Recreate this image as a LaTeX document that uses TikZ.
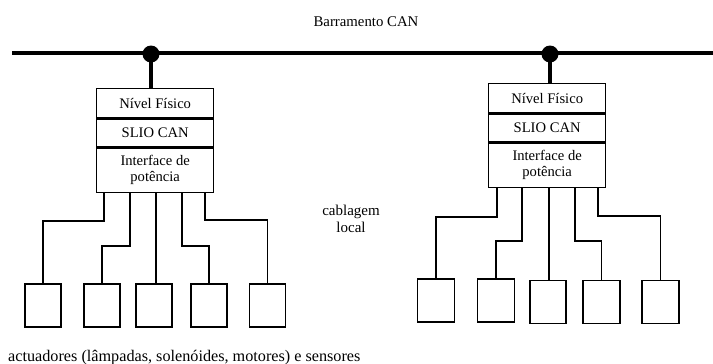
\documentclass[tikz,border=0pt]{standalone}
\usepackage{fontspec}
\setmainfont{Liberation Serif}
\usetikzlibrary{calc}
\begin{document}
\begin{tikzpicture}[x=1pt,y=-1pt,
  txt/.style={font=\fontsize{14.6}{16}\selectfont},
  layer/.style={draw,line width=1.3pt,minimum width=117pt,inner sep=0pt,align=center,txt},
  dev/.style={draw,line width=1.3pt,minimum width=36pt,minimum height=43pt,inner sep=0pt},
  wire/.style={line width=1.3pt},
  bus/.style={line width=4pt},
  tap/.style={circle,fill=black,minimum size=17pt,inner sep=0pt}]
\useasboundingbox (0,0) rectangle (713,364);
% bus
\coordinate (busL) at (12,53);
\coordinate (busR) at (713,53);
\draw[bus] (busL) -- (busR);
\node[font=\fontsize{14.8}{16}\selectfont] (title) at (366,22) {Barramento CAN};
\node[tap] (dotL) at (151,54) {};
\node[tap] (dotR) at (550,54) {};
% left stack
\node[layer,minimum height=29pt,anchor=north west] (Lphy) at (96,88) {N\'ivel F\'isico};
\node[layer,minimum height=28pt,anchor=north] (Lslio) at (Lphy.south) {SLIO CAN};
\node[layer,minimum height=44pt,anchor=north] (Lif) at (Lslio.south) {Interface de\\pot\^encia};
\draw[bus] (dotL.center) -- (dotL.center |- Lphy.north);
% right stack
\node[layer,minimum height=29pt,anchor=north west] (Rphy) at (488,83) {N\'ivel F\'isico};
\node[layer,minimum height=28pt,anchor=north] (Rslio) at (Rphy.south) {SLIO CAN};
\node[layer,minimum height=44pt,anchor=north] (Rif) at (Rslio.south) {Interface de\\pot\^encia};
\draw[bus] (dotR.center) -- (dotR.center |- Rphy.north);
% left devices
\node[dev] (L1) at (43,305.5) {};
\node[dev] (L2) at (102,305.5) {};
\node[dev] (L3) at (154,305.5) {};
\node[dev] (L4) at (209,305.5) {};
\node[dev] (L5) at (267.5,305.5) {};
% right devices
\node[dev,minimum width=37pt] (R1) at (436,300.5) {};
\node[dev,minimum width=37pt] (R2) at (496,300.5) {};
\node[dev] (R3) at (548,302) {};
\node[dev,minimum width=37pt] (R4) at (601.5,302) {};
\node[dev,minimum width=37pt] (R5) at (660.5,302) {};
% left wiring
\draw[wire] ($(Lif.south west)+(8,0)$) -- ++(0,28) -| (L1.north);
\draw[wire] ($(Lif.south west)+(34,0)$) -- ++(0,53) -| (L2.north);
\draw[wire] ($(Lif.south west)+(60,0)$) coordinate (s3) -- (s3 |- L3.north);
\draw[wire] ($(Lif.south west)+(86,0)$) -- ++(0,53) -| (L4.north);
\draw[wire] ($(Lif.south west)+(109,0)$) -- ++(0,27) -| (L5.north);
% right wiring
\draw[wire] ($(Rif.south west)+(9,0)$) -- ++(0,29) -| (R1.north);
\draw[wire] ($(Rif.south west)+(34,0)$) -- ++(0,53) -| (R2.north);
\draw[wire] ($(Rif.south west)+(61,0)$) coordinate (t3) -- (t3 |- R3.north);
\draw[wire] ($(Rif.south west)+(87,0)$) -- ++(0,53) -| (R4.north);
\draw[wire] ($(Rif.south west)+(110,0)$) -- ++(0,28) -| (R5.north);
% labels
\node[font=\fontsize{15}{17}\selectfont,align=center,anchor=base] (cab) at (351,232.7) {cablagem\\local};
\node[font=\fontsize{16.2}{18}\selectfont,anchor=base west,inner sep=0pt] (act) at (8,361) {actuadores (l\^ampadas, solen\'oides, motores) e sensores};
\end{tikzpicture}
\end{document}
